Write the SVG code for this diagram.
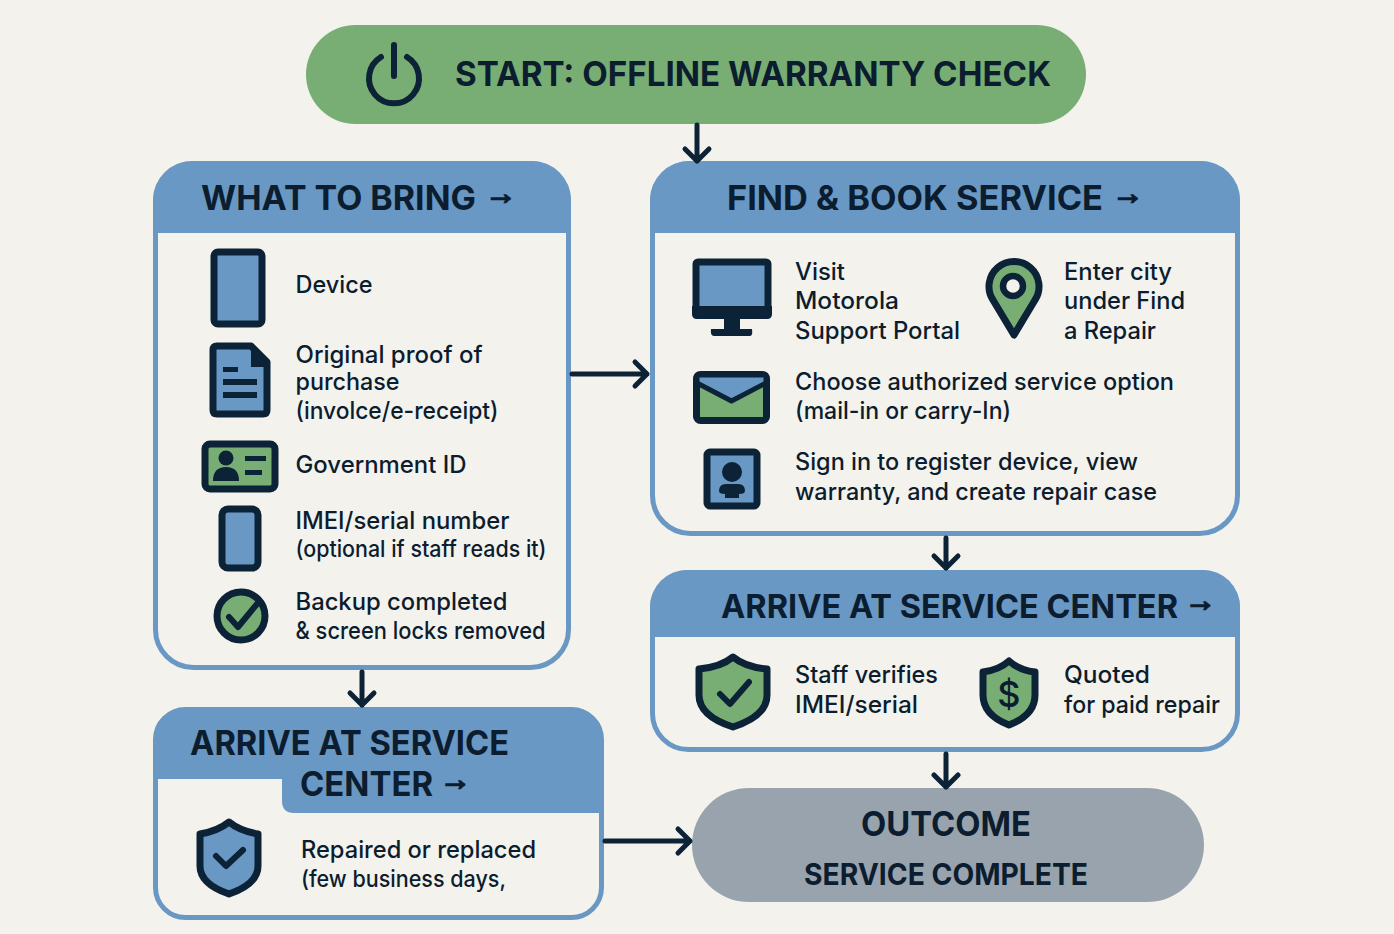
<svg xmlns="http://www.w3.org/2000/svg" width="1394" height="934" viewBox="0 0 1394 934">
<style>
text{font-family:Inter,"Liberation Sans",sans-serif;fill:#0b1d2e}
.h{font-size:34px;font-weight:700}
.t{font-size:24px;font-weight:450}
.s{font-size:23px;font-weight:450}
.a{font-family:"Liberation Sans",sans-serif;font-size:31px;font-weight:700;stroke:#0b1d2e;stroke-width:1.800}
.card{fill:#f4f2ed;stroke:#6a98c4;stroke-width:5}
.hd{fill:#6a98c4}
.i{stroke:#0c2236;stroke-width:7;stroke-linejoin:round;stroke-linecap:round}
.b{fill:#6a98c4}.g{fill:#78ae73}.n{fill:none}.d{fill:#0c2236;stroke:none}
.c{fill:none;stroke:#0c2236;stroke-width:5;stroke-linecap:round;stroke-linejoin:round}
</style>
<rect width="1394" height="934" fill="#f4f2ed"/>
<g id="start">
<rect x="306" y="25" width="780" height="99" rx="49.500" fill="#78ae73"/>
<path class="i n" d="M381 57A25 25 0 1 0 407 57M394 45V76" style="stroke-width:6"/>
<text x="455" y="86" class="h" textLength="596" lengthAdjust="spacingAndGlyphs">START: OFFLINE WARRANTY CHECK</text>
</g>
<g id="what-to-bring">
<rect class="card" x="155.500" y="163.500" width="413" height="504" rx="38"/>
<path class="hd" d="M153 233V200A39 39 0 0 1 192 161H532A39 39 0 0 1 571 200V233Z"/>
<text x="201" y="210" class="h" textLength="275" lengthAdjust="spacingAndGlyphs">WHAT TO BRING</text>
<text x="485.500" y="204" class="a">→</text>
<rect class="i b" x="214" y="252" width="48" height="72" rx="4"/>
<text x="295.500" y="293" class="t" textLength="77" lengthAdjust="spacingAndGlyphs">Device</text>
<path class="i b" d="M217 346H251L267 362V410Q267 414 263 414H217Q213 414 213 410V350Q213 346 217 346Z"/>
<path class="d" d="M251 344L270 362V367H251Z"/>
<path class="d" d="M223 367H238V372H223ZM223 379H257V385H223ZM223 392H257V398H223Z"/>
<text x="295.500" y="363" class="t" textLength="187" lengthAdjust="spacingAndGlyphs">Original proof of</text>
<text x="295.500" y="390" class="t" textLength="104" lengthAdjust="spacingAndGlyphs">purchase</text>
<text x="295.500" y="419" class="t" textLength="203" lengthAdjust="spacingAndGlyphs">(involce/e-receipt)</text>
<rect class="i g" x="205" y="444" width="70" height="45" rx="5"/>
<circle class="d" cx="226" cy="458" r="7.500"/>
<path class="d" d="M213 481Q213 467 226 467Q239 467 239 481Z"/>
<path class="d" d="M245 456H266V461H245ZM245 470H262V475H245Z"/>
<text x="295.500" y="473" class="t" textLength="171" lengthAdjust="spacingAndGlyphs">Government ID</text>
<rect class="i b" x="222" y="509" width="36" height="59" rx="6"/>
<text x="295.500" y="529" class="t" textLength="214" lengthAdjust="spacingAndGlyphs">IMEI/serial number</text>
<text x="295.500" y="557" class="s" textLength="251" lengthAdjust="spacingAndGlyphs">(optional if staff reads it)</text>
<circle class="i g" cx="241" cy="616" r="24"/>
<path class="n" d="M229 617L238 627L257 604" stroke="#0c2236" stroke-width="6" stroke-linecap="round" stroke-linejoin="round"/>
<text x="295.500" y="610" class="t" textLength="212" lengthAdjust="spacingAndGlyphs">Backup completed</text>
<text x="295.500" y="639" class="t" textLength="250" lengthAdjust="spacingAndGlyphs">&amp; screen locks removed</text>
</g>
<g id="find-book">
<rect class="card" x="652.500" y="163.500" width="585" height="370" rx="38"/>
<path class="hd" d="M650 233V200A39 39 0 0 1 689 161H1201A39 39 0 0 1 1240 200V233Z"/>
<text x="727" y="210" class="h" textLength="376" lengthAdjust="spacingAndGlyphs">FIND &amp; BOOK SERVICE</text>
<text x="1112.500" y="204" class="a">→</text>
<rect class="i b" x="696" y="262" width="72" height="53" rx="2"/>
<path class="d" d="M692 306H772V314Q772 319 767 319H697Q692 319 692 314Z"/>
<path class="d" d="M724 318H740V329H752Q753 336 750 336H714Q710 336 711 329H724Z"/>
<text x="795" y="280" class="t" textLength="50" lengthAdjust="spacingAndGlyphs">Visit</text>
<text x="795" y="309" class="t" textLength="104" lengthAdjust="spacingAndGlyphs">Motorola</text>
<text x="795" y="339" class="t" textLength="165" lengthAdjust="spacingAndGlyphs">Support Portal</text>
<path class="i g" d="M1014 335L993 300A25 25 0 1 1 1035 300Z"/>
<circle cx="1013" cy="286" r="10" fill="#f4f2ed" stroke="#0c2236" stroke-width="6.500"/>
<text x="1064" y="280" class="t" textLength="108" lengthAdjust="spacingAndGlyphs">Enter city</text>
<text x="1064" y="309" class="t" textLength="121" lengthAdjust="spacingAndGlyphs">under Find</text>
<text x="1064" y="339" class="t" textLength="92" lengthAdjust="spacingAndGlyphs">a Repair</text>
<rect class="i g" x="696.500" y="374.500" width="70" height="46" rx="4"/>
<path class="i b" d="M697 375H766V383L731.500 401L697 383Z" style="stroke-width:5"/>
<text x="795" y="390" class="t" textLength="379" lengthAdjust="spacingAndGlyphs">Choose authorized service option</text>
<text x="795" y="419" class="t" textLength="216" lengthAdjust="spacingAndGlyphs">(mail-in or carry-In)</text>
<rect class="i b" x="707" y="452" width="50" height="54" rx="3"/>
<circle class="d" cx="732" cy="472" r="10"/>
<path class="d" d="M719 491Q719 484 726 484H738Q745 484 745 491Q745 494 739 494V498H725V494Q719 494 719 491Z"/>
<text x="795" y="470" class="t" textLength="343" lengthAdjust="spacingAndGlyphs">Sign in to register device, view</text>
<text x="795" y="500" class="t" textLength="362" lengthAdjust="spacingAndGlyphs">warranty, and create repair case</text>
</g>
<g id="arrive-right">
<rect class="card" x="652.500" y="572.500" width="585" height="177" rx="36"/>
<path class="hd" d="M650 637V607A37 37 0 0 1 687 570H1203A37 37 0 0 1 1240 607V637Z"/>
<text x="721" y="618" class="h" style="font-size:33px" textLength="457" lengthAdjust="spacingAndGlyphs">ARRIVE AT SERVICE CENTER</text>
<text x="1185" y="611" class="a">→</text>
<path class="i g" d="M733 657Q745 667 767 669V695Q767 716 733 727Q699 716 699 695V669Q721 667 733 657Z"/>
<path class="n" d="M720 694L730 704L749 682" stroke="#0c2236" stroke-width="6" stroke-linecap="round" stroke-linejoin="round"/>
<text x="795" y="683" class="t" textLength="143" lengthAdjust="spacingAndGlyphs">Staff verifies</text>
<text x="795" y="713" class="t" textLength="123" lengthAdjust="spacingAndGlyphs">IMEI/serial</text>
<path class="i g" d="M1009 661Q1019 670 1035 672V695Q1035 715 1009 725Q983 715 983 695V672Q999 670 1009 661Z"/>
<text x="1009" y="707" text-anchor="middle" style="font-size:36px;font-weight:500">$</text>
<text x="1064" y="683" class="t" textLength="86" lengthAdjust="spacingAndGlyphs">Quoted</text>
<text x="1064" y="713" class="t" textLength="156" lengthAdjust="spacingAndGlyphs">for paid repair</text>
</g>
<g id="arrive-left">
<rect class="card" x="155.500" y="709.500" width="446" height="208" rx="30"/>
<path class="hd" d="M153 779V746A39 39 0 0 1 192 707H565A39 39 0 0 1 604 746V813H294Q282 813 282 801V779Z"/>
<text x="190" y="755" class="h" textLength="319" lengthAdjust="spacingAndGlyphs">ARRIVE AT SERVICE</text>
<text x="300" y="796" class="h" textLength="133" lengthAdjust="spacingAndGlyphs">CENTER</text>
<text x="440" y="790" class="a">→</text>
<path class="i b" d="M229 822Q240 831 258 834V866Q258 884 229 894Q200 884 200 866V834Q218 831 229 822Z"/>
<path class="n" d="M216 856L226 866L243 850" stroke="#0c2236" stroke-width="6" stroke-linecap="round" stroke-linejoin="round"/>
<text x="301" y="858" class="t" textLength="235" lengthAdjust="spacingAndGlyphs">Repaired or replaced</text>
<text x="301" y="887" class="s" textLength="205" lengthAdjust="spacingAndGlyphs">(few business days,</text>
</g>
<g id="outcome">
<rect x="692" y="788" width="512" height="114" rx="57" fill="#98a3ae"/>
<text x="946" y="836" text-anchor="middle" class="h" textLength="170" lengthAdjust="spacingAndGlyphs">OUTCOME</text>
<text x="946" y="885" text-anchor="middle" style="font-size:30px;font-weight:700" textLength="284" lengthAdjust="spacingAndGlyphs">SERVICE COMPLETE</text>
</g>
<g id="connectors">
<path class="c" d="M697 125V161M685 149L697 161L709 149"/>
<path class="c" d="M572 374H647M635 362L647 374L635 386"/>
<path class="c" d="M946 538V568M934 556L946 568L958 556"/>
<path class="c" d="M946 754V787M934 775L946 787L958 775"/>
<path class="c" d="M362 672V705M350 693L362 705L374 693"/>
<path class="c" d="M605 841H690M678 829L690 841L678 853"/>
</g>
</svg>
